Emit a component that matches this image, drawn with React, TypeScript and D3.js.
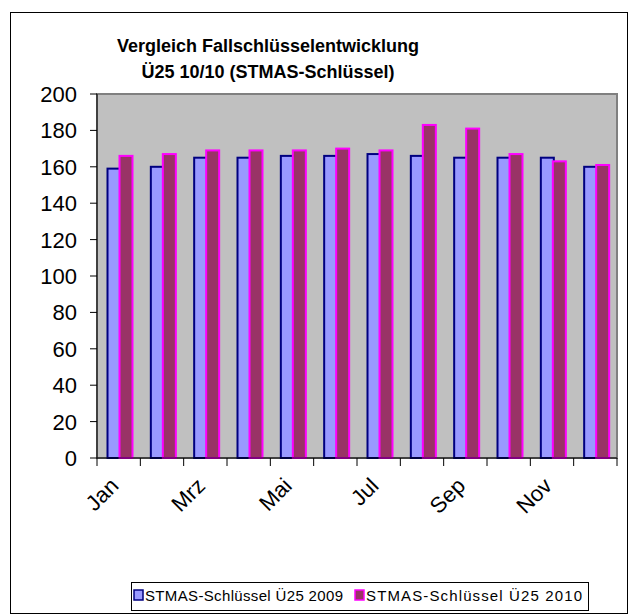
import React from "react";
import * as d3 from "d3";

const months = ["Jan", "Feb", "Mrz", "Apr", "Mai", "Jun", "Jul", "Aug", "Sep", "Okt", "Nov", "Dez"];
const series2009 = [159, 160, 165, 165, 166, 166, 167, 166, 165, 165, 165, 160];
const series2010 = [166, 167, 169, 169, 169, 170, 169, 183, 181, 167, 163, 161];
const yTicks = [0, 20, 40, 60, 80, 100, 120, 140, 160, 180, 200];
const xLabels = ["Jan", "Mrz", "Mai", "Jul", "Sep", "Nov"];
const seriesNames = ["STMAS-Schlüssel Ü25 2009", "STMAS-Schlüssel Ü25 2010"];

const W = 629, H = 614;
const plot = { left: 97, right: 617, top: 94, bottom: 458 };
const font = "'Liberation Sans', Arial, sans-serif";

export default function App() {
  const x = d3.scaleBand<string>().domain(months).range([plot.left, plot.right]).paddingInner(0).paddingOuter(0);
  const y = d3.scaleLinear().domain([0, 200]).range([plot.bottom, plot.top]);
  const bw = 13;
  const off1 = 10.5;
  const off2 = off1 + 12;
  const tickXs = d3.range(months.length + 1).map((i) => plot.left + i * x.bandwidth());

  return (
    <svg width={W} height={H} style={{ position: "absolute", left: 0, top: 0, display: "block", background: "#fff" }}>
      <rect x={10.5} y={12.5} width={617} height={601} fill="#fff" stroke="#000" strokeWidth={1} />
      <text x={268} y={52} textAnchor="middle" fontFamily={font} fontWeight="bold" fontSize={18}>
        Vergleich Fallschlüsselentwicklung
      </text>
      <text x={268} y={78} textAnchor="middle" fontFamily={font} fontWeight="bold" fontSize={18}>
        Ü25 10/10 (STMAS-Schlüssel)
      </text>
      <rect x={plot.left} y={plot.top} width={plot.right - plot.left} height={plot.bottom - plot.top} fill="#C0C0C0" stroke="#808080" strokeWidth={2} />
      {months.map((m, i) => (
        <g key={m}>
          <rect x={(x(m) as number) + off1} y={y(series2009[i])} width={bw} height={plot.bottom - y(series2009[i])} fill="#9999FF" stroke="#000080" strokeWidth={2} />
          <rect x={(x(m) as number) + off2} y={y(series2010[i])} width={bw} height={plot.bottom - y(series2010[i])} fill="#993366" stroke="#FF00FF" strokeWidth={2} />
        </g>
      ))}
      <line x1={plot.left} x2={plot.left} y1={plot.top} y2={plot.bottom} stroke="#000" strokeWidth={1} />
      <line x1={plot.left} x2={plot.right} y1={plot.bottom} y2={plot.bottom} stroke="#000" strokeWidth={1} />
      {yTicks.map((t) => (
        <g key={t}>
          <line x1={plot.left - 7} x2={plot.left} y1={y(t)} y2={y(t)} stroke="#000" />
          <text x={77} y={y(t)} dy="0.36em" textAnchor="end" fontFamily={font} fontSize={22}>
            {t}
          </text>
        </g>
      ))}
      {tickXs.map((tx, i) => (
        <line key={i} x1={tx} x2={tx} y1={plot.bottom} y2={plot.bottom + 8} stroke="#000" />
      ))}
      {xLabels.map((lab) => {
        const cx = (x(lab) as number) + x.bandwidth() / 2;
        return (
          <text key={lab} transform={`translate(${cx - 10},${plot.bottom + 18}) rotate(-45)`} textAnchor="end" dy="0.72em" fontFamily={font} fontSize={22}>
            {lab}
          </text>
        );
      })}
      <rect x={131.5} y={582.5} width={457} height={28} fill="#fff" stroke="#000" strokeWidth={1} />
      <rect x={134} y={590} width={9} height={10} fill="#9999FF" stroke="#000080" strokeWidth={1.5} />
      <text x={145} y={601} fontFamily={font} fontSize={15} textLength={198} lengthAdjust="spacing">{seriesNames[0]}</text>
      <rect x={355} y={590} width={9} height={10} fill="#993366" stroke="#FF00FF" strokeWidth={1.5} />
      <text x={366} y={601} fontFamily={font} fontSize={15} textLength={216} lengthAdjust="spacing">{seriesNames[1]}</text>
    </svg>
  );
}
